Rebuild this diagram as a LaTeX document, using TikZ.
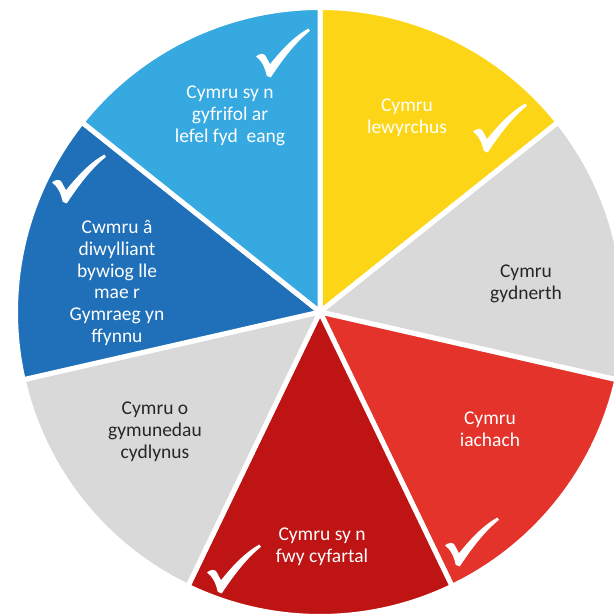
\documentclass[tikz,border=0pt]{standalone}
\usepackage{fontspec}
\setmainfont{Carlito}
\definecolor{cLB}{HTML}{36A9E1}
\definecolor{cYe}{HTML}{FCD616}
\definecolor{cGr}{HTML}{D9D9D9}
\definecolor{cRe}{HTML}{E4332A}
\definecolor{cDR}{HTML}{BE1414}
\definecolor{cDB}{HTML}{1F70B8}
\definecolor{cTx}{HTML}{262626}
\begin{document}
\begin{tikzpicture}[x=1pt,y=1pt,
  slice/.style={draw=white,line width=5pt,line join=miter},
  lbl/.style={align=center,font=\fontsize{19.5}{21.8}\selectfont,inner sep=0pt},
  wlbl/.style={lbl,text=white},
  dlbl/.style={lbl,text=cTx},
  chk/.pic={\fill[white] (-27,-3.5) .. controls (-24,-0.5) and (-19,0) .. (-17.5,-2.8) -- (-13,-11.2) .. controls (0,5) and (12,17) .. (25.3,24.5) -- (27,22.2) .. controls (12,10) and (0,-6) .. (-12.3,-24.5) -- (-16.3,-22.8) .. controls (-18,-14) and (-22,-7) .. cycle;}
]
\useasboundingbox (0,0) rectangle (613,615);
\coordinate (C) at (320,303);
\def\R{304.5}
\filldraw[slice,fill=cYe] (C) -- ++(90:\R) arc[start angle=90,end angle=38.571,radius=\R] -- cycle;
\filldraw[slice,fill=cGr] (C) -- ++(38.571:\R) arc[start angle=38.571,end angle=-12.857,radius=\R] -- cycle;
\filldraw[slice,fill=cRe] (C) -- ++(-12.857:\R) arc[start angle=-12.857,end angle=-64.286,radius=\R] -- cycle;
\filldraw[slice,fill=cDR] (C) -- ++(-64.286:\R) arc[start angle=-64.286,end angle=-115.714,radius=\R] -- cycle;
\filldraw[slice,fill=cGr] (C) -- ++(-115.714:\R) arc[start angle=-115.714,end angle=-167.143,radius=\R] -- cycle;
\filldraw[slice,fill=cDB] (C) -- ++(-167.143:\R) arc[start angle=-167.143,end angle=-218.571,radius=\R] -- cycle;
\filldraw[slice,fill=cLB] (C) -- ++(141.429:\R) arc[start angle=141.429,end angle=90,radius=\R] -- cycle;

\node[wlbl] (tLB) at (230,499) {Cymru sy n\\gyfrifol ar\\lefel fyd\ \ eang};
\node[wlbl] (tYe) at (407,497) {Cymru\\lewyrchus};
\node[dlbl] (tGR) at (526,331) {Cymru\\gydnerth};
\node[wlbl] (tRe) at (490,186) {Cymru\\iachach};
\node[wlbl] (tDR) at (322,68) {Cymru sy n\\fwy cyfartal};
\node[dlbl] (tGL) at (155,183) {Cymru o\\gymunedau\\cydlynus};
\node[wlbl] (tDB) at (117,332) {Cwmru â\\diwylliant\\bywiog lle\\mae r\\Gymraeg yn\\ffynnu};

\pic at (283,562) {chk};
\pic at (500,487) {chk};
\pic at (79,436) {chk};
\pic at (472,73) {chk};
\pic at (234,46) {chk};
\end{tikzpicture}
\end{document}
